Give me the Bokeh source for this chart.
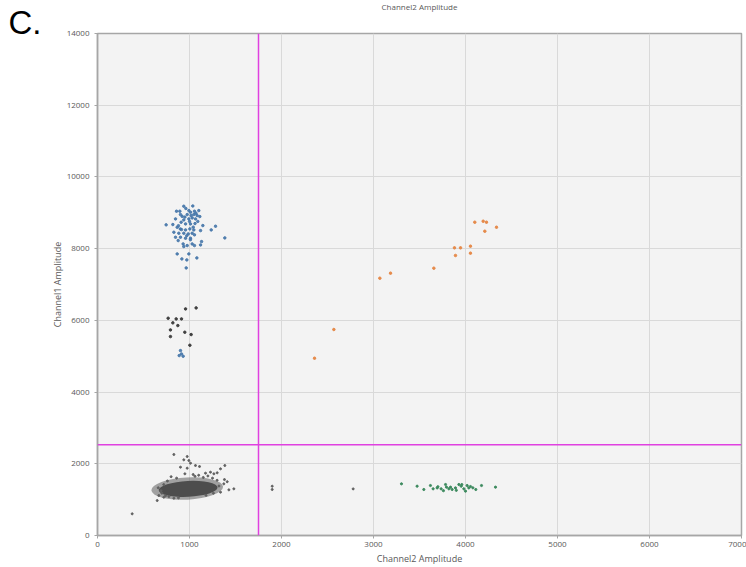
from bokeh.plotting import figure
from bokeh.models import Range1d, Span, Title, FixedTicker
from bokeh.embed import file_html
from bokeh.resources import INLINE

# ---------------- data ----------------
x_ticks = [0, 1000, 2000, 3000, 4000, 5000, 6000, 7000]
y_ticks = [0, 2000, 4000, 6000, 8000, 10000, 12000, 14000]
threshold_ch2 = 1750
threshold_ch1 = 2530

# dense double-negative core (centre, extent in data units)
core_x = [975, 985]
core_y = [1310, 1300]
core_w = [780, 640]
core_h = [620, 440]

# scattered gray droplets around the negative core
neg_x = [830, 975, 938, 993, 1011, 902, 975, 1065, 1109, 1384, 1337, 1301, 1265, 1228,
         1174, 1373, 1428, 1482, 1337, 667, 721, 776, 830, 649, 377, 1899, 1899, 2779,
         700, 720, 760, 1150, 1250, 1300, 1200, 1380, 690, 740, 860, 1100, 1040, 880,
         1320, 1410, 660, 800, 1180, 1260, 950, 1060]
neg_y = [2259, 2203, 2110, 2091, 2017, 1906, 1878, 1952, 1924, 1952, 1859, 1748, 1720, 1766,
         1738, 1440, 1273, 1301, 1208, 1115, 1068, 1087, 1040, 975, 604, 1375, 1283, 1300,
         1180, 1420, 1520, 1620, 1600, 1540, 1660, 1560, 1250, 1110, 1600, 1680, 1700, 1050,
         1380, 1500, 1330, 1640, 1120, 1180, 1720, 1650]

# channel1-positive (blue) droplets
fam_x = [938, 1036, 859, 895, 993, 1011, 1054, 1101, 902, 975, 1018, 1047, 1083, 1112,
         848, 938, 993, 1029, 1065, 819, 746, 909, 957, 1011, 1145, 866, 913, 957, 1004,
         1047, 1120, 830, 884, 938, 986, 1029, 1054, 848, 902, 957, 1011, 877, 931, 975,
         938, 1029, 1131, 1120, 1283, 1236, 1384, 1054, 866, 993, 917, 1080, 971, 964,
         960, 1070, 920, 1000, 1090, 880, 1040, 970, 1010, 900, 1060, 950,
         902, 913, 888, 931]
fam_y = [9183, 9190, 9044, 9044, 9062, 9016, 9044, 9062, 8951, 8951, 8923, 8951, 8923, 8895,
         8830, 8802, 8830, 8858, 8830, 8672, 8663, 8737, 8690, 8690, 8644, 8597, 8532, 8523,
         8551, 8523, 8504, 8458, 8430, 8430, 8411, 8430, 8384, 8318, 8318, 8290, 8290, 8225,
         8132, 8086, 8058, 8132, 8197, 8104, 8625, 8523, 8300, 8086, 7853, 7853, 7714, 7742,
         7686, 7463,
         9120, 8990, 8900, 8760, 8760, 8640, 8600, 8360, 8250, 8550, 8700, 8880,
         5157, 5064, 5018, 5000]

# droplets between the clusters (dark)
mid_x = [957, 1072, 768, 855, 913, 819, 873, 793, 949, 1018, 793, 1004]
mid_y = [6320, 6348, 6060, 6041, 6041, 5930, 5855, 5734, 5669, 5604, 5548, 5306]

# double-positive (orange) droplets
dp_x = [4101, 4192, 4228, 4210, 4337, 3880, 3946, 4054, 4054, 3891, 3656, 3185, 3069, 2569, 2359]
dp_y = [8737, 8765, 8737, 8486, 8597, 8022, 8022, 8069, 7874, 7809, 7455, 7316, 7176, 5745, 4944]

# channel2-positive (green) droplets
vic_x = [3304, 3474, 3547, 3619, 3648, 3692, 3735, 3783, 3793, 3819, 3837, 3855, 3891, 3928,
         3953, 3982, 4000, 4018, 4036, 4054, 4112, 4174, 4326, 3760, 3900, 3700, 3960, 4080]
vic_y = [1441, 1375, 1283, 1394, 1302, 1328, 1302, 1422, 1348, 1302, 1348, 1283, 1328, 1422,
         1375, 1302, 1237, 1394, 1328, 1366, 1283, 1394, 1348, 1250, 1260, 1360, 1420, 1330]

FONT = "Open Sans"

p = figure(width=746, height=567, output_backend="svg", toolbar_location=None,
           x_range=Range1d(0, 7000), y_range=Range1d(0, 14000),
           min_border_left=97, min_border_right=5, min_border_top=33, min_border_bottom=32,
           background_fill_color="#f3f3f3", border_fill_color="white",
           outline_line_color="#a6a6a6", outline_line_width=1.5)

p.xaxis.ticker = FixedTicker(ticks=x_ticks)
p.yaxis.ticker = FixedTicker(ticks=y_ticks)
p.xaxis.axis_label = "Channel2 Amplitude"
p.yaxis.axis_label = "Channel1 Amplitude"
for ax in (p.xaxis[0], p.yaxis[0]):
    ax.axis_line_color = "#a6a6a6"
    ax.axis_line_width = 1.5
    ax.major_tick_line_color = "#a6a6a6"
    ax.major_tick_in = 0
    ax.major_tick_out = 3
    ax.minor_tick_line_color = None
    ax.major_label_text_font = FONT
    ax.major_label_text_font_size = "8px"
    ax.major_label_text_color = "#595959"
    ax.axis_label_text_font = FONT
    ax.axis_label_text_font_size = "9px"
    ax.axis_label_text_font_style = "normal"
    ax.axis_label_text_color = "#595959"
    ax.major_label_standoff = 3
    ax.axis_label_standoff = 2
p.yaxis.major_label_standoff = 5
p.yaxis.axis_label_standoff = 0
p.grid.grid_line_color = "#d9d9d9"
p.grid.grid_line_width = 1

# negative core
p.ellipse(x=core_x[:1], y=core_y[:1], width=core_w[:1], height=core_h[:1], angle=0.05,
          fill_color="#5c5c5c", fill_alpha=0.55, line_color=None)
p.ellipse(x=core_x[1:], y=core_y[1:], width=core_w[1:], height=core_h[1:], angle=0.05,
          fill_color="#4d4d4d", line_color=None)
p.scatter(neg_x, neg_y, size=2, color="#606060")
p.scatter(mid_x, mid_y, size=2.5, color="#404040")
p.scatter(fam_x, fam_y, size=2.5, color="#4677aa", alpha=0.9)
p.scatter(dp_x, dp_y, size=2.5, color="#e68a4a")
p.scatter(vic_x, vic_y, size=2.2, color="#3c8a5e")

p.add_layout(Span(location=threshold_ch2, dimension="height", line_color="#e040e0", line_width=1.5))
p.add_layout(Span(location=threshold_ch1, dimension="width", line_color="#e040e0", line_width=1.5))

# panel letter (nearest the frame) and the top title (outermost)
p.title = None
p.add_layout(Title(text="C.", align="left", offset=-89, standoff=-15,
                   text_font="Liberation Sans", text_font_size="33px",
                   text_font_style="normal", text_color="#000000"), "above")
p.add_layout(Title(text="Channel2 Amplitude", align="center", offset=-8, standoff=-4,
                   text_font=FONT, text_font_size="8px",
                   text_font_style="normal", text_color="#595959"), "above")

open("out.html", "w").write(file_html(p, INLINE))
